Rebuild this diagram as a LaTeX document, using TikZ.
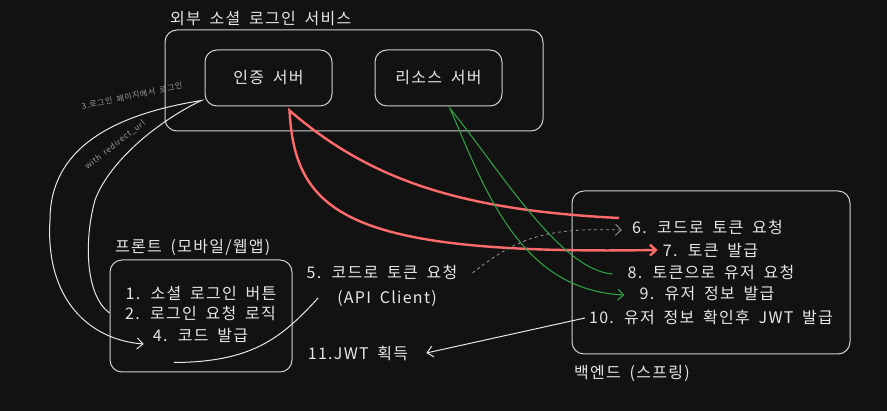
\documentclass[tikz,border=0pt]{standalone}
\usepackage{fontspec}
\setmainfont[LetterSpace=8, WordSpace=1.8]{Noto Sans CJK KR}
\usetikzlibrary{arrows.meta}
\definecolor{bg}{HTML}{121212}
\definecolor{boxgray}{HTML}{D0D0D0}
\definecolor{textgray}{HTML}{E6E6E6}
\definecolor{notegray}{HTML}{9A9A9A}
\definecolor{redline}{HTML}{FF6B6B}
\definecolor{greenline}{HTML}{2F9E44}
\begin{document}
\begin{tikzpicture}[x=1pt, y=-1pt,
		box/.style={draw=boxgray, line width=1pt, rounded corners=12pt, text=textgray, font=\fontsize{16}{19}\selectfont},
		txt/.style={text=textgray, inner sep=0pt, font=\fontsize{16}{19}\selectfont},
		note/.style={text=notegray, inner sep=0pt, font=\fontsize{8}{10}\selectfont},
		flow/.style={draw=textgray, line width=1pt, -{Straight Barb[length=6pt,width=11pt]}},
		redflow/.style={draw=redline, line width=2.4pt, -{Straight Barb[length=6pt,width=11pt]}},
		greenflow/.style={draw=greenline, line width=1.1pt, -{Straight Barb[length=6pt,width=11pt]}}
		]
	\fill[bg] (0,0) rectangle (887,411);
	\useasboundingbox (0,0) rectangle (887,411);
	% external login service
	\node [box, minimum width=378pt, minimum height=101pt] (ext) at (354,80.5) {};
	\node [txt, anchor=west] (extl) at (170,19) {외부 소셜 로그인 서비스};
	\node [box, minimum width=127pt, minimum height=56pt] (auth) at (268.5,78) {인증 서버};
	\node [box, minimum width=127pt, minimum height=56pt] (res) at (438.5,78) {리소스 서버};
	% front
	\node [box, minimum width=182pt, minimum height=112pt] (front) at (201,316) {};
	\node [txt, anchor=west] (frontl) at (115,247) {프론트 (모바일/웹앱)};
	\node [txt] (t1) at (201,294) {1. 소셜 로그인 버튼};
	\node [txt] (t2) at (200.5,313) {2. 로그인 요청 로직};
	\node [txt] (t4) at (200.5,335) {4. 코드 발급};
	\node [txt] (t5) at (382,272) {5. 코드로 토큰 요청};
	\node [txt] (api) at (387,299) {(API Client)};
	\node [txt] (t11) at (358,353) {11.JWT 획득};
	% backend
	\node [box, minimum width=278pt, minimum height=163pt] (back) at (711,272.5) {};
	\node [txt, anchor=west] (backl) at (574,373) {백엔드 (스프링)};
	\node [txt] (t6) at (707.5,227) {6. 코드로 토큰 요청};
	\node [txt] (t7) at (710.5,250) {7. 토큰 발급};
	\node [txt] (t8) at (711,272) {8. 토큰으로 유저 요청};
	\node [txt] (t9) at (707,294) {9. 유저 정보 발급};
	\node [txt] (t10) at (711,317) {10. 유저 정보 확인후 JWT 발급};
	% notes on the login loop
	\node [note, rotate=12] (n3) at (132,96) {3.로그인 페이지에서 로그인};
	\node [note, rotate=38] (nr) at (115,145) {with redirect\_url};
	% connectors
	\draw [flow] (front.west |- t2) .. controls (85,295) and (84,240) .. (95,200) .. controls (110,160) and (160,120) .. ([shift={(-3,-6)}]auth.south west)
		.. controls (110,115) and (50,150) .. (50,220) .. controls (45,300) and (90,340) .. ([shift={(-9,9)}]t4.west);
	\draw [redflow] ([shift={(-13,-9)}]t6.west) .. controls (460,210) and (370,180) .. ([shift={(21,4)}]auth.south)
		.. controls (295,215) and (350,255) .. ([xshift=-5]t7.west);
	\draw [greenflow] ([shift={(-15,2)}]t8.west) .. controls (560,270) and (500,170) .. ([shift={(11.5,2)}]res.south)
		.. controls (485,190) and (520,290) .. ([shift={(-15,1)}]t9.west);
	\draw [flow, draw=notegray, line width=0.8pt, dashed] ([shift={(15,1)}]t5.east) .. controls (520,235) and (550,228) .. ([shift={(-10,3)}]t6.west);
	\draw [draw=textgray, line width=1pt] ([shift={(-27,-10)}]front.south) .. controls (250,362) and (280,340) .. ([shift={(-19,-1)}]api.west);
	\draw [flow] ([shift={(-4,1)}]t10.west) -- ([xshift=18]t11.east);
\end{tikzpicture}
\end{document}
